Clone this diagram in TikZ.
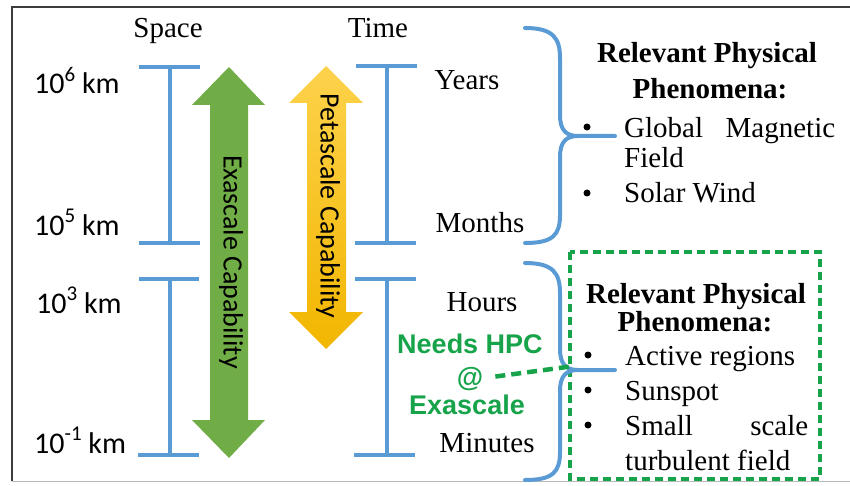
\documentclass[tikz,border=0pt]{standalone}
\usepackage{fontspec}
\setmainfont{Liberation Serif}
\newfontfamily\calibfont{Carlito}
\newfontfamily\arialfont{Liberation Sans}
\definecolor{barblue}{HTML}{5B9BD5}
\definecolor{exagreen}{HTML}{70AD47}
\definecolor{petatop}{HTML}{FDD24C}
\definecolor{petabottom}{HTML}{F2B600}
\definecolor{hpcgreen}{RGB}{22,163,74}
\definecolor{framegray}{RGB}{60,60,60}
\newcommand{\powsup}[1]{\raisebox{0.42em}{\fontsize{21}{24}\selectfont #1}}
\tikzset{
  serif/.style={font=\fontsize{29}{33}\selectfont, inner sep=0pt},
  serifbold/.style={font=\fontsize{29}{33}\selectfont\bfseries, inner sep=0pt},
  scalelabel/.style={font=\calibfont\fontsize{30}{34}\selectfont, inner sep=0pt, anchor=base west},
  arrowtext/.style={font=\calibfont\fontsize{28}{32}\selectfont, inner sep=0pt, rotate=-90},
  hpctext/.style={font=\arialfont\bfseries\fontsize{27}{30}\selectfont, text=hpcgreen, inner sep=0pt, anchor=base},
  rangebar/.style={draw=barblue, line width=4pt},
  bracepath/.style={draw=barblue, line width=4pt, line cap=round},
  bulletmark/.style={fill=black, circle, inner sep=0pt, minimum size=7pt},
}
\begin{document}
\begin{tikzpicture}[x=1pt,y=-1pt]
\useasboundingbox (0,0) rectangle (850,486);
% outer frame
\draw[framegray, line width=2pt] (12,481) -- (12,7) -- (852,7);
\draw[gray!55, line width=1pt] (12,481) -- (852,481);

% column headings
\node[serif, anchor=base] (space) at (168,38) {Space};
\node[serif, anchor=base] (time) at (378,38) {Time};

% space range bars
\draw[rangebar] (139,67) -- (200,67) (170,67) -- (170,243) (139,243) -- (200,243);
\draw[rangebar] (139,279) -- (199,279) (170,279) -- (170,455) (138,455) -- (199,455);
\node[scalelabel] (s6) at (34,94) {10\powsup{6} km};
\node[scalelabel] (s5) at (34,235) {10\powsup{5} km};
\node[scalelabel] (s3) at (36,313) {10\powsup{3} km};
\node[scalelabel] (s1) at (34,453) {10\powsup{-1} km};

% time range bars
\draw[rangebar] (356,66) -- (417,66) (387,66) -- (387,243) (355,243) -- (416,243);
\draw[rangebar] (355,279) -- (416,279) (387,279) -- (387,455) (354,455) -- (415,455);
\node[serif, anchor=base] (years) at (467,90) {Years};
\node[serif, anchor=base] (months) at (480,233) {Months};
\node[serif, anchor=base] (hours) at (482,311) {Hours};
\node[serif, anchor=base] (minutes) at (487,452) {Minutes};

% exascale double arrow
\fill[exagreen] (229,67) -- (265,105) -- (248,105) -- (248,420) -- (265,420)
  -- (229,458) -- (192,420) -- (210,420) -- (210,105) -- (192,105) -- cycle;
\node[arrowtext] (exa) at (231,262) {Exascale Capability};

% petascale double arrow
\shade[top color=petatop, bottom color=petabottom] (326,66) -- (363,103) -- (346,103)
  -- (346,312) -- (363,312) -- (326,349) -- (289,312) -- (307,312) -- (307,103)
  -- (289,103) -- cycle;
\node[arrowtext] (peta) at (328,206) {Petascale Capability};

% dashed box around the small-scale phenomena
\draw[hpcgreen, line width=4pt, dash pattern=on 8pt off 5pt] (570,252) rectangle (820,479);

% upper brace
\draw[bracepath] (525,28) .. controls (553,28) and (560,38) .. (560,58) -- (560,115)
  .. controls (560,130) and (566,136) .. (578,136) -- (615,136);
\draw[bracepath] (578,136) .. controls (566,136) and (560,142) .. (560,157) -- (560,215)
  .. controls (560,235) and (553,243) .. (525,243);
\coordinate (tipA) at (578,136);

% lower brace
\draw[bracepath] (525,263) .. controls (553,263) and (560,273) .. (560,293) -- (560,349)
  .. controls (560,364) and (566,370) .. (578,370) -- (615,370);
\draw[bracepath] (578,370) .. controls (566,370) and (560,376) .. (560,391) -- (560,452)
  .. controls (560,472) and (553,480) .. (525,480);
\coordinate (tipB) at (574,366);

% HPC note
\node[hpctext] (needs) at (470,353) {Needs HPC};
\node[hpctext] (atsym) at (470,386) {@};
\node[hpctext] (exascale) at (467,414) {Exascale};
\draw[hpcgreen, line width=4.5pt, dash pattern=on 10pt off 6pt] ([xshift=12pt,yshift=2pt]atsym.east) -- (tipB);

% upper phenomena list
\node[serifbold, anchor=base] (relA) at (707,63) {Relevant Physical};
\node[serifbold, anchor=base] (phenA) at (710,99) {Phenomena:};
\node[bulletmark] (bA1) at (587,127) {};
\node[serif, anchor=base west] (globA) at (624,138) {\makebox[211pt][s]{Global\hfill Magnetic}};
\node[serif, anchor=base west] (fieldA) at (624,168) {Field};
\node[bulletmark] (bA2) at (587,193) {};
\node[serif, anchor=base west] (solarA) at (624,203) {Solar Wind};

% lower phenomena list
\node[serifbold, anchor=base] (relB) at (696,303) {Relevant Physical};
\node[serifbold, anchor=base] (phenB) at (695,331) {Phenomena:};
\node[bulletmark] (bB1) at (588,355) {};
\node[serif, anchor=base west] (activeB) at (625,365) {Active regions};
\node[bulletmark] (bB2) at (588,390) {};
\node[serif, anchor=base west] (sunB) at (625,400) {Sunspot};
\node[bulletmark] (bB3) at (588,425) {};
\node[serif, anchor=base west] (smallB) at (625,435) {\makebox[183pt][s]{Small\hfill scale}};
\node[serif, anchor=base west] (turbB) at (625,470) {turbulent field};
\end{tikzpicture}
\end{document}
